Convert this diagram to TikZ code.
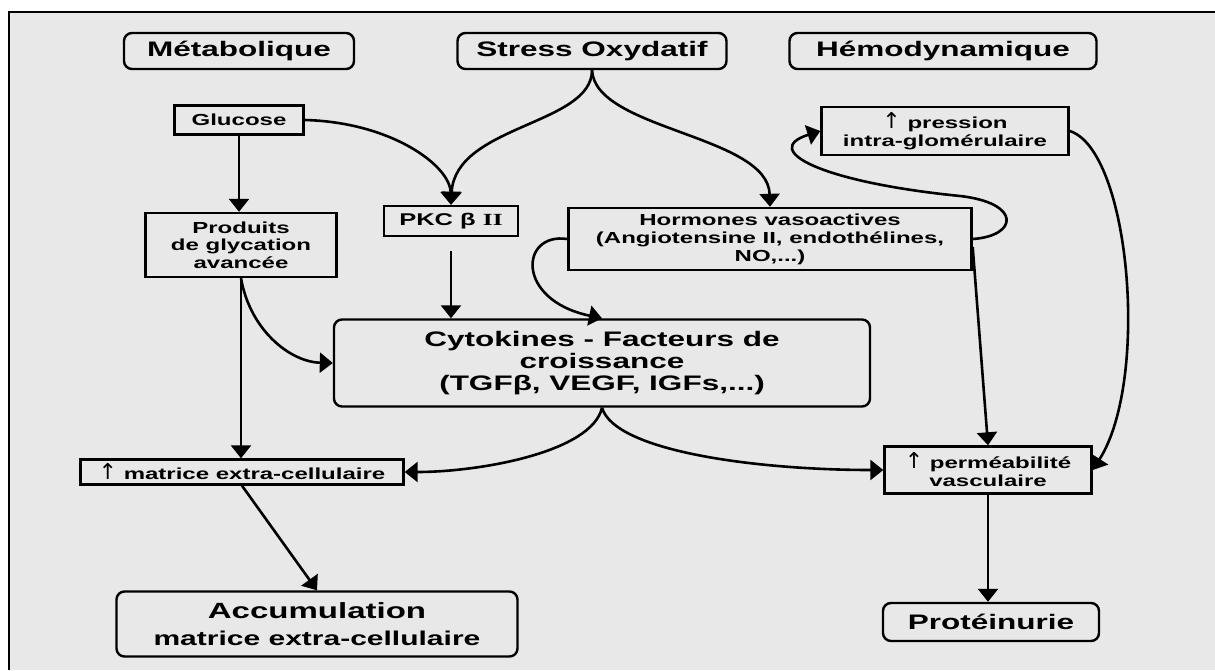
\documentclass[tikz,border=0pt]{standalone}
\usepackage{fontspec}
\setmainfont[FakeStretch=1.5]{Liberation Sans}
\newfontfamily\romanii[FakeStretch=1.5]{Liberation Serif}
\newfontfamily\arrowsym{DejaVu Sans}
\newcommand{\uparr}{{\arrowsym\mdseries\fontsize{11}{9}\selectfont ↑}}
\usetikzlibrary{arrows.meta}
\definecolor{panel}{RGB}{232,232,232}

\begin{document}
\begin{tikzpicture}[x=0.5pt, y=-0.5pt,
  box/.style={rectangle, draw, line width=1.2pt, inner sep=0pt, align=center,
    font=\fontsize{8}{9}\selectfont\bfseries},
  rbox/.style={box, rounded corners=4pt},
  headbox/.style={rbox, minimum height=18pt, font=\fontsize{10.5}{12}\selectfont\bfseries},
  wire/.style={-{Triangle[width=10pt, length=6.5pt]}, line width=1.3pt}
]
\useasboundingbox (0,0) rectangle (1215,670);

% Background panel
\fill[panel] (9,12) rectangle (1215,670);
\draw[line width=1pt] (9,670) -- (9,12) -- (1215,12);

% Top row: the three causes
\node[headbox, minimum width=115pt] (meta) at (239,51) {Métabolique};
\node[headbox, minimum width=134.5pt] (stress) at (592,51) {Stress Oxydatif};
\node[headbox, minimum width=153.5pt] (hemo) at (943,51) {Hémodynamique};

% Second level
\node[box, minimum width=64.5pt, minimum height=14.5pt] (glucose) at (239,120) {Glucose};
\node[box, minimum width=123.5pt, minimum height=24pt] (pression) at (945,131)
  {\uparr{} pression\\intra-glomérulaire};

% Third level
\node[box, minimum width=95.5pt, minimum height=32pt, font=\fontsize{8}{8.8}\selectfont\bfseries]
  (produits) at (241,245) {Produits\\de glycation\\avancée};
\node[box, minimum width=67pt, minimum height=15pt, font=\fontsize{8.5}{10}\selectfont\bfseries]
  (pkc) at (451,221) {PKC β {\romanii II}};
\node[box, minimum width=201.5pt, minimum height=31pt] (hormones) at (770,239)
  {Hormones vasoactives\\(Angiotensine II, endothélines,\\NO,...)};

% Central box
\node[rbox, minimum width=268pt, minimum height=43.5pt, font=\fontsize{10.5}{11.2}\selectfont\bfseries]
  (cyto) at (602,363) {Cytokines - Facteurs de\\croissance\\(TGFβ, VEGF, IGFs,...)};

% Effects
\node[box, minimum width=161.5pt, minimum height=12.5pt] (matrice) at (242,472)
  {\uparr{} matrice extra-cellulaire};
\node[box, minimum width=103.5pt, minimum height=23.5pt] (permea) at (988,470)
  {\uparr{} perméabilité\\vasculaire};

% Outcomes
\node[rbox, minimum width=200.5pt, minimum height=32.5pt, font=\fontsize{10}{13.5}\selectfont\bfseries]
  (accu) at (317,624) {{\fontsize{11}{13.5}\selectfont Accumulation}\\matrice extra-cellulaire};
\node[rbox, minimum width=108pt, minimum height=19pt, font=\fontsize{10.5}{12}\selectfont\bfseries]
  (proteinurie) at (991,622) {Protéinurie};

% Wires (left column)
\draw[wire] (glucose.south) -- (glucose.south |- produits.north);
\draw[wire] (produits.south) -- (produits.south |- matrice.north);
\draw[wire] (produits.south) .. controls (250,330) and (290,362) .. (cyto.west);
\draw[wire] (matrice.south) -- (accu.north);

% Wires into PKC and hormones
\draw[wire] (glucose.east) .. controls (390,122) and (450,165) .. (pkc.north);
\draw[wire] (stress.south) .. controls (592,125) and (455,125) .. (pkc.north);
\draw[wire] (stress.south) .. controls (595,130) and (768,135) .. (hormones.north);

% Wires into the central box
\draw[wire, shorten <=7pt] (pkc.south) -- (pkc.south |- cyto.north);
\draw[wire] (hormones.west) .. controls (520,232) and (515,300) .. (cyto.north);

% Wires out of the central box
\draw[wire] (cyto.south) .. controls (592,452) and (480,472) .. (matrice.east);
\draw[wire] (cyto.south) .. controls (615,452) and (760,470) .. (permea.west);

% Right column
\draw[wire] (hormones.east) .. controls (1018,236) and (1022,203) .. (960,196)
  .. controls (820,182) and (760,150) .. (pression.west);
\draw[wire] ([yshift=-4pt]hormones.east) -- (permea.north);
\draw[wire] (pression.east) .. controls (1130,150) and (1150,380) .. (permea.east);
\draw[wire] (permea.south) -- (permea.south |- proteinurie.north);

\end{tikzpicture}
\end{document}
